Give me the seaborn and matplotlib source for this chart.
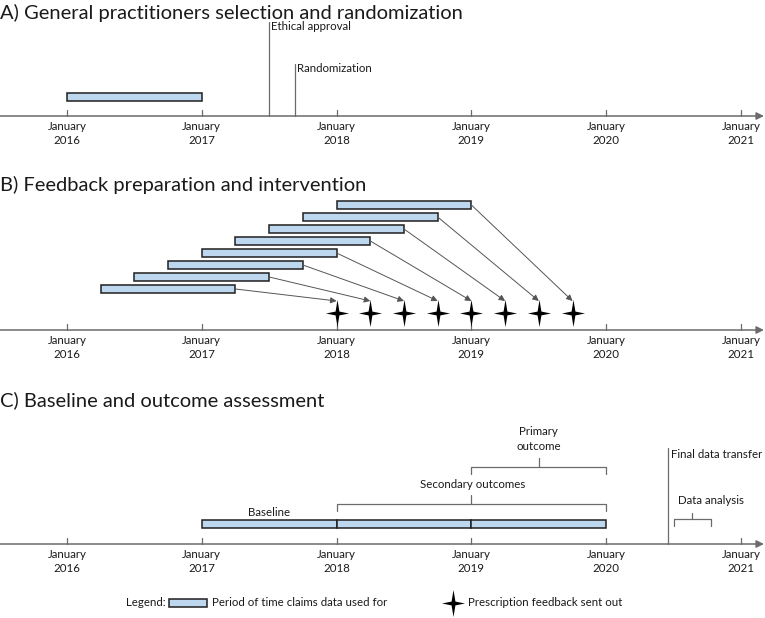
import numpy as np
import matplotlib.pyplot as plt
from matplotlib.path import Path
import seaborn as sns

sns.set_theme(style="white")
plt.rcParams['font.family'] = ['Lato', 'DejaVu Sans']

# ---- data ----
years = [2016, 2017, 2018, 2019, 2020, 2021]

# A) selection and randomization
selection_period = (2016.0, 2017.0)
event_labels_a = ["Ethical approval", "Randomization"]
event_dates_a = [2017.50, 2017.69]

# B) feedback preparation (claims windows) and feedback dates
window_starts = [2016.25, 2016.50, 2016.75, 2017.00, 2017.25, 2017.50, 2017.75, 2018.00]
window_ends = [2017.25, 2017.50, 2017.75, 2018.00, 2018.25, 2018.50, 2018.75, 2019.00]
feedback_dates = [2018.00, 2018.25, 2018.50, 2018.75, 2019.00, 2019.25, 2019.50, 2019.75]

# C) baseline and outcome assessment
period_labels_c = ["Baseline", "", ""]
period_starts_c = [2017.0, 2018.0, 2019.0]
period_ends_c = [2018.0, 2019.0, 2020.0]
bracket_labels = ["Secondary outcomes", "Primary\noutcome", "Data analysis"]
bracket_starts = [2018.0, 2019.0, 2020.50]
bracket_ends = [2020.0, 2020.0, 2020.78]
final_transfer_date = 2020.46

# ---- style ----
bar_face = '#BDD7EE'
bar_edge = '#1f1f1f'
line_col = '#6b6b6b'
txt_col = '#1a1a1a'
fs = 8.3

fig = plt.figure(figsize=(7.65, 6.18), dpi=100)
ax = fig.add_axes([0, 0, 1, 1])
ax.set_xlim(2015.503, 2021.178)
ax.set_ylim(618, 0)
ax.axis('off')

# four pointed star marker (a bit taller than wide)
ang = np.deg2rad(90 - 45 * np.arange(8))
rad = np.where(np.arange(8) % 2 == 0, 1.0, 0.2)
sx = np.where(np.arange(8) % 2 == 0, 0.85, 1.0)
verts = list(zip(rad * sx * np.cos(ang), rad * np.sin(ang)))
verts.append(verts[0])
star = Path(verts, closed=True)


def timeline(y):
    ax.annotate('', xy=(2021.17, y), xytext=(2015.50, y),
                arrowprops=dict(arrowstyle='-|>', color=line_col, lw=1.1,
                                mutation_scale=11, shrinkA=0, shrinkB=0))
    for yr in years:
        ax.plot([yr, yr], [y - 6, y], color=line_col, lw=0.9)
        ax.text(yr, y + 10, "January", ha='center', va='center', fontsize=fs, color=txt_col)
        ax.text(yr, y + 25, str(yr), ha='center', va='center', fontsize=fs, color=txt_col)


def bars(starts, ends, ys, h=8):
    ax.barh(ys, np.array(ends) - np.array(starts), left=starts, height=h,
            color=bar_face, edgecolor=bar_edge, linewidth=1.1, zorder=3)


def bracket(x0, x1, y, tip=9, end=7):
    xm = (x0 + x1) / 2
    ax.plot([x0, x0, x1, x1], [y + end, y, y, y + end], color=line_col, lw=0.9)
    ax.plot([xm, xm], [y, y - tip], color=line_col, lw=0.9)


# ---- A ----
ax.text(2015.505, 13, "A) General practitioners selection and randomization",
        fontsize=14.5, va='center', ha='left', color=txt_col)
timeline(116)
bars([selection_period[0]], [selection_period[1]], [97])
for lab, d, top in zip(event_labels_a, event_dates_a, [22, 64]):
    ax.plot([d, d], [top, 116], color=line_col, lw=0.9)
    ax.text(d + 0.015, top + 5, lab, fontsize=fs, va='center', ha='left', color=txt_col)

# ---- B ----
ax.text(2015.505, 185, "B) Feedback preparation and intervention",
        fontsize=14.5, va='center', ha='left', color=txt_col)
timeline(330)
win_y = [289 - 12 * i for i in range(len(window_starts))]
bars(window_starts, window_ends, win_y)
for xs, ys, xd in zip(window_ends, win_y, feedback_dates):
    ax.annotate('', xy=(xd, 301), xytext=(xs, ys),
                arrowprops=dict(arrowstyle='-|>', color='#555555', lw=0.7,
                                mutation_scale=9, shrinkA=0, shrinkB=0))
sns.scatterplot(x=feedback_dates, y=[313] * len(feedback_dates), marker=star,
                s=380, color='black', edgecolor='black', linewidth=0, ax=ax, zorder=4)

# ---- C ----
ax.text(2015.505, 400, "C) Baseline and outcome assessment",
        fontsize=14.5, va='center', ha='left', color=txt_col)
timeline(544)
bars(period_starts_c, period_ends_c, [524] * 3)
for lab, s, e in zip(period_labels_c, period_starts_c, period_ends_c):
    if lab:
        ax.text((s + e) / 2, 513, lab, ha='center', va='center', fontsize=fs, color=txt_col)

bracket_y = [504, 467, 519]
label_pos = [(2019.01, 485), (2019.50, 439), (2020.778, 501)]
for lab, s, e, y, (tx, ty) in zip(bracket_labels, bracket_starts, bracket_ends,
                                   bracket_y, label_pos):
    bracket(s, e, y, tip=9 if y != 519 else 6)
    ax.text(tx, ty, lab, ha='center', va='center', fontsize=fs, color=txt_col,
            linespacing=1.45)

ax.plot([final_transfer_date] * 2, [448, 544], color=line_col, lw=0.9)
ax.text(final_transfer_date + 0.02, 454, "Final data transfer", fontsize=fs,
        va='center', ha='left', color=txt_col)

# ---- legend ----
ax.text(2016.438, 603, "Legend:", fontsize=fs, va='center', ha='left', color=txt_col)
ax.barh([603], [0.282], left=[2016.757], height=8, color=bar_face,
        edgecolor=bar_edge, linewidth=1.1)
ax.text(2017.076, 603, "Period of time claims data used for", fontsize=fs,
        va='center', ha='left', color=txt_col)
ax.scatter([2018.864], [603], marker=star, s=380, color='black', linewidth=0)
ax.text(2018.975, 603, "Prescription feedback sent out", fontsize=fs,
        va='center', ha='left', color=txt_col)

fig.savefig('out.png', dpi=100)
